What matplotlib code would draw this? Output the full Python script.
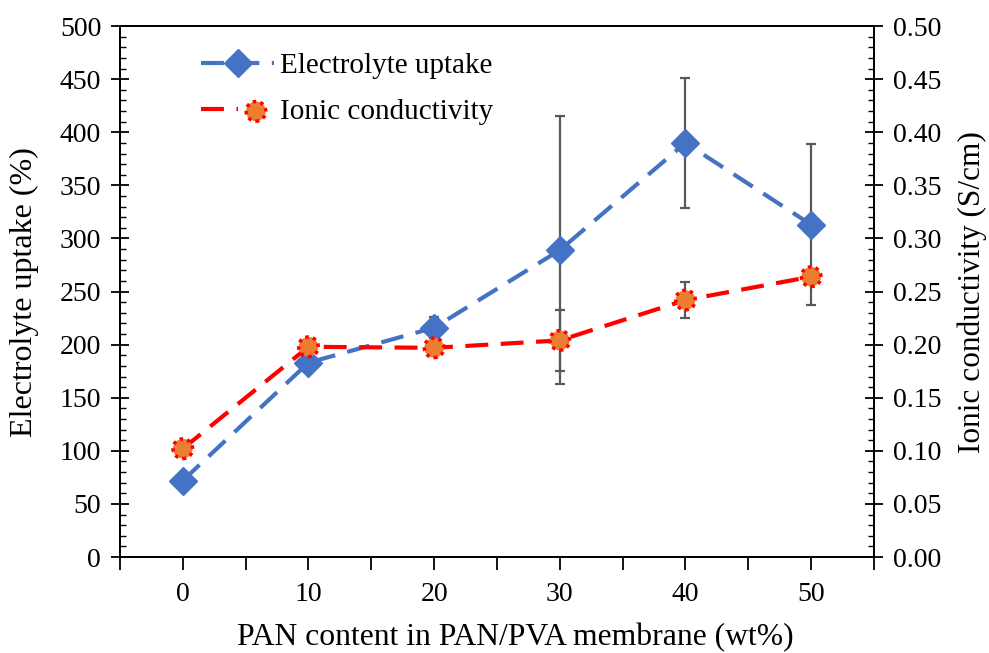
import numpy as np
import matplotlib
matplotlib.use("Agg")
import matplotlib.pyplot as plt
from matplotlib.ticker import MultipleLocator, FormatStrFormatter
from matplotlib.legend_handler import HandlerTuple

# data
pan_content = ["0", "10", "20", "30", "40", "50"]
uptake = [72, 183, 216, 289, 390, 313]
uptake_err = [0, 0, 10, 126, 61, 76]
conductivity = [0.102, 0.198, 0.197, 0.204, 0.242, 0.264]
conductivity_err = [0, 0, 0, 0.029, 0.017, 0]

plt.rcParams['font.family'] = ['Liberation Serif', 'DejaVu Serif']
tick_fs = 20

fig = plt.figure(figsize=(9.89, 6.53), dpi=100)
ax = fig.add_axes([0.1213, 0.147, 0.8837 - 0.1213, 0.960 - 0.147])
ax2 = ax.twinx()

x = np.arange(len(pan_content))
blue = '#4472C4'
orange = '#ED7D31'
red = '#FF0000'
grey = '#595959'

# error bars
ax.errorbar(x, uptake, yerr=uptake_err, fmt='none', ecolor=grey, elinewidth=1.6,
            capsize=3.5, capthick=1.6, zorder=1)
ax2.errorbar(x, conductivity, yerr=conductivity_err, fmt='none', ecolor=grey,
             elinewidth=1.6, capsize=3.5, capthick=1.6, zorder=1)

# series
dash = (0, (5.5, 3))
l1, = ax.plot(x, uptake, color=blue, lw=3, ls=dash, marker='D',
              ms=14, mfc=blue, mec=blue, zorder=3)
l2, = ax2.plot(x, conductivity, color=red, lw=3, ls=dash, zorder=2)
s2 = ax2.scatter(x, conductivity, s=200, c=orange, edgecolors=red,
                 linewidths=2.5, linestyles=(0, (1, 1.2)), zorder=4)

ax.set_xlim(-0.5, len(pan_content) - 0.5)
ax.set_ylim(0, 500)
ax2.set_ylim(0, 0.5)

ax.set_xticks(x)
ax.set_xticklabels(pan_content)
ax.xaxis.set_minor_locator(MultipleLocator(0.5))
ax.tick_params(axis='x', which='both', direction='out', length=9, width=1.3,
               labelsize=tick_fs, pad=9)

ax.yaxis.set_major_locator(MultipleLocator(50))
ax.yaxis.set_minor_locator(MultipleLocator(10))
ax.tick_params(axis='y', which='major', direction='inout', length=13, width=1.3,
               labelsize=tick_fs, pad=7)
ax.tick_params(axis='y', which='minor', direction='in', length=4.5, width=1.0)

ax2.yaxis.set_major_locator(MultipleLocator(0.05))
ax2.yaxis.set_minor_locator(MultipleLocator(0.01))
ax2.yaxis.set_major_formatter(FormatStrFormatter('%.2f'))
ax2.tick_params(axis='y', which='major', direction='inout', length=13, width=1.3,
                labelsize=tick_fs, pad=7)
ax2.tick_params(axis='y', which='minor', direction='in', length=4.5, width=1.0)

for a in (ax, ax2):
    for sp in a.spines.values():
        sp.set_linewidth(1.3)

ax.set_xlabel('PAN content in PAN/PVA membrane (wt%)', fontsize=22.8)
ax.xaxis.set_label_coords(0.524, -0.124)
ax.set_ylabel('Electrolyte uptake (%)', fontsize=23)
ax2.set_ylabel('Ionic conductivity (S/cm)', fontsize=22.5)
ax.yaxis.set_label_coords(-0.107, 0.5)
ax2.yaxis.set_label_coords(1.111, 0.5)

leg = ax2.legend([l1, (l2, s2)], ['Electrolyte uptake', 'Ionic conductivity'],
                 handler_map={tuple: HandlerTuple(ndivide=None, pad=0)},
                 loc='upper left', bbox_to_anchor=(0.073, 0.999), frameon=False,
                 fontsize=21, handlelength=2.5, handletextpad=0.2,
                 labelspacing=0.66)

fig.savefig('out.png', dpi=100)
